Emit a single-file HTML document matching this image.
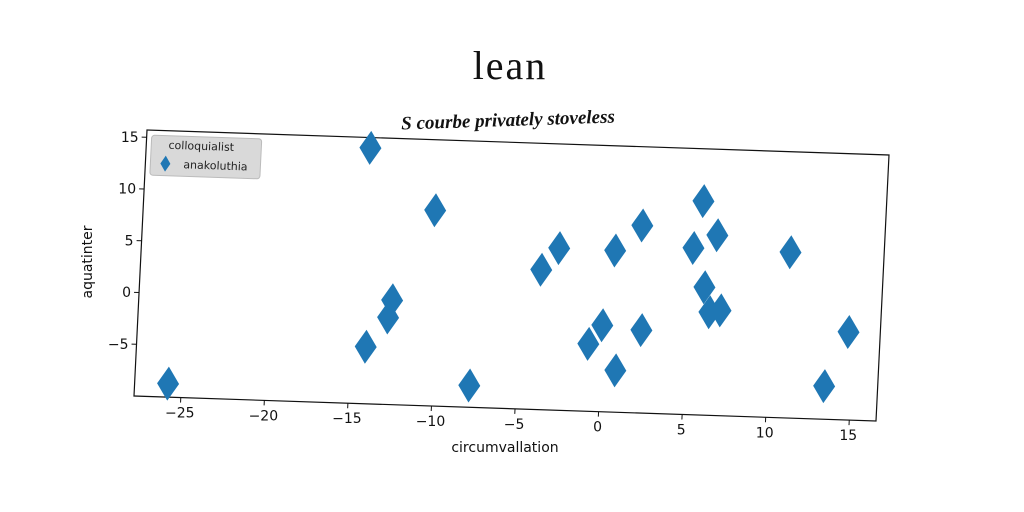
<!DOCTYPE html>
<html><head><meta charset="utf-8"><style>
html,body{margin:0;padding:0;background:#fff;}
svg{display:block;font-family:"DejaVu Sans","Liberation Sans",sans-serif;}
</style></head><body>
<svg id="c" width="1024" height="512" viewBox="0 0 1024 512">
<text x="510" y="79" text-anchor="middle" font-family="Liberation Serif, serif" font-size="40" letter-spacing="2" fill="#111">lean</text>
<text x="508" y="126" text-anchor="middle" font-family="Liberation Serif, serif" font-style="italic" font-weight="bold" font-size="19" fill="#111" transform="rotate(-1.9 508 120)">S courbe privately stoveless</text>
<text x="505" y="452" text-anchor="middle" font-size="14" fill="#111">circumvallation</text>
<text x="0" y="0" text-anchor="middle" font-size="14" fill="#111" transform="translate(92 262) rotate(-90)">aquatinter</text>
<g id="plot"></g>
<g id="labels"></g>
</svg>
<script>
const xs=[-25.8,-14.4,-10.35,-12.66,-12.85,-14.1,-7.8,-3.84,-2.83,-0.81,-0.03,0.52,0.88,2.07,2.32,5.19,5.65,5.96,6.33,6.58,6.99,11.0,13.4,14.7];
const ys=[-8.7,14.7,8.9,0.08,-1.6,-4.5,-7.9,3.5,5.65,-3.5,-1.65,5.6,-5.96,8.1,-2.0,6.1,10.65,2.35,-0.05,7.4,0.17,6.0,-6.8,-1.5];
const xTicks=[-25,-20,-15,-10,-5,0,5,10,15];
const yTicks=[-5,0,5,10,15];
const xTickLabels=["\u221225","\u221220","\u221215","\u221210","\u22125","0","5","10","15"];
const yTickLabels=["\u22125","0","5","10","15"];
const W=742,H=266,XMIN=-27.8,XMAX=16.6,YMIN=-10.0,YMAX=15.7;
const NS="http://www.w3.org/2000/svg";
function xu(v){return (v-XMIN)/(XMAX-XMIN)*W;}
function yv(v){return (YMAX-v)/(YMAX-YMIN)*H;}
function scr(u,v){return [147+u-0.0489*v,130+0.0337*u+v];}
function mk(tag,attrs,parent){const e=document.createElementNS(NS,tag);for(const k in attrs)e.setAttribute(k,attrs[k]);parent.appendChild(e);return e;}
const plot=document.getElementById('plot');
const labels=document.getElementById('labels');
plot.setAttribute('transform','matrix(1,0.0337,-0.0489,1,147,130)');
const frame=mk('rect',{x:0,y:0,width:W,height:H,fill:'#fff',stroke:'#111','stroke-width':1.2},plot);


xTicks.forEach((t,i)=>{
  const u=xu(t);
  const tk=mk('line',{x1:u,y1:H,x2:u,y2:H+5,stroke:'#111','stroke-width':1},plot);
  
  
  const p=scr(u,H+20);
  const tl=mk('text',{x:p[0],y:p[1],'text-anchor':'middle','font-size':14,fill:'#111'},labels);
  tl.textContent=xTickLabels[i];
  
  
});
yTicks.forEach((t,i)=>{
  const v=yv(t);
  const tk=mk('line',{x1:-5,y1:v,x2:0,y2:v,stroke:'#111','stroke-width':1},plot);
  
  
  const p=scr(-8,v);
  const tl=mk('text',{x:p[0],y:p[1]+5,'text-anchor':'end','font-size':14,fill:'#111'},labels);
  tl.textContent=yTickLabels[i];
  
  
});
xs.forEach((x,i)=>{
  const u=xu(x),v=yv(ys[i]);
  const d=mk('path',{d:`M${u} ${v-17}L${u+11} ${v}L${u} ${v+17}L${u-11} ${v}Z`,fill:'#1f77b4'},plot);
  
  
});
const lg=mk('g',{},plot);


mk('rect',{x:5,y:5,width:110,height:40,rx:3,fill:'#d9d9d9',stroke:'#bbb'},lg);
const lt=mk('text',{x:55,y:18,'text-anchor':'middle','font-size':11,fill:'#222'},lg);
lt.textContent='colloquialist';


const lm=mk('path',{d:'M20 25L25 33L20 41L15 33Z',fill:'#1f77b4'},lg);


const le=mk('text',{x:38,y:37,'font-size':11,fill:'#222'},lg);
le.textContent='anakoluthia';


</script>
</body></html>
